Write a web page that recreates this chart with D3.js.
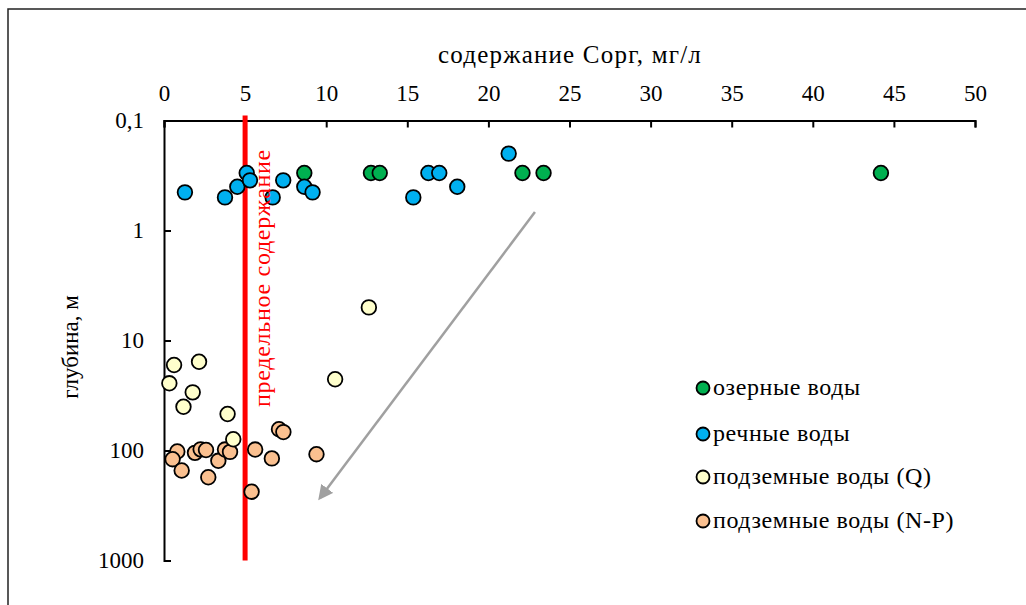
<!DOCTYPE html>
<html><head><meta charset="utf-8">
<script src="https://cdn.jsdelivr.net/npm/d3@7"></script>
<style>
body{margin:0;background:#fff;}
</style></head>
<body><svg id="c" width="1026" height="605"></svg>
<script>
// ---- data ----
const xTicks = [0,5,10,15,20,25,30,35,40,45,50];
const yTicks = [0.1,1,10,100,1000];
const yTickLabels = ["0,1","1","10","100","1000"];

const lakeX = [8.65,12.76,13.3,22.1,23.4,44.2];
const lakeY = [0.3,0.3,0.3,0.3,0.3,0.3];

const riverX = [1.29,3.76,4.52,5.1,5.3,6.7,7.35,8.65,9.16,15.37,16.3,16.97,18.08,21.25];
const riverY = [0.45,0.5,0.4,0.3,0.35,0.5,0.35,0.4,0.45,0.5,0.3,0.3,0.4,0.2];

const gwQX = [12.63,0.62,2.16,0.33,10.55,1.77,1.2,3.92,4.27];
const gwQY = [5,16.7,15.6,24.5,22.5,29.6,40,46.6,79];

const gwNPX = [0.82,0.53,1.09,1.91,2.26,2.59,3.35,2.73,3.76,4.07,5.62,6.65,9.4,5.4,7.09,7.36];
const gwNPY = [102,120,152,105,97.6,99,124,175,98,103,98,118,108,237,64,68];

const seriesNames = ["озерные воды","речные воды","подземные воды (Q)","подземные воды (N-P)"];
const seriesColors = ["#00B050","#00B0F0","#FFFFCC","#FAC090"];

const limitX = 5, limitY0 = 0.09, limitY1 = 1000;
const limitLabel = "предельное содержание";
const arrowFrom = [22.87,0.68], arrowTo = [9.62,270];

const xTitle = "содержание Сорг, мг/л";
const yTitle = "глубина, м";

// ---- drawing ----
const FONT = "Liberation Serif";
const svg = d3.select("#c");
const m = {left:164, top:120.5, right:975, bottom:560.5};
const x = d3.scaleLinear().domain([0,50]).range([m.left,m.right]);
const y = d3.scaleLog().domain([0.1,1000]).range([m.top,m.bottom]);

// outer frame
svg.append("rect").attr("x",8).attr("y",9).attr("width",1040).attr("height",620)
  .attr("fill","none").attr("stroke","#222").attr("stroke-width",1.5);

// axes
const xAxis = d3.axisTop(x).tickValues(xTicks).tickSize(-7).tickPadding(20).tickFormat(d3.format("d"));
const gx = svg.append("g").attr("transform",`translate(0,${m.top})`).call(xAxis)
  .attr("font-family",FONT).attr("font-size",23);
gx.select(".domain").attr("stroke","#000").attr("stroke-width",2);
gx.selectAll(".tick line").attr("stroke","#000").attr("stroke-width",2);
gx.selectAll("text").attr("fill","#000");

const yAxis = d3.axisLeft(y).tickValues(yTicks).tickSize(-7).tickPadding(20)
  .tickFormat((d,i)=>yTickLabels[i]);
const gy = svg.append("g").attr("transform",`translate(${m.left},0)`).call(yAxis)
  .attr("font-family",FONT).attr("font-size",23);
gy.select(".domain").attr("stroke","#000").attr("stroke-width",2);
gy.selectAll(".tick line").attr("stroke","#000").attr("stroke-width",2);
gy.selectAll("text").attr("fill","#000");

// titles
svg.append("text").attr("x",570).attr("y",63).attr("text-anchor","middle")
  .attr("font-family",FONT).attr("font-size",25).attr("letter-spacing",1.2).text(xTitle);
svg.append("text").attr("transform","translate(78,347) rotate(-90)").attr("text-anchor","middle")
  .attr("font-family",FONT).attr("font-size",23).text(yTitle);

// arrow
svg.append("defs").append("marker").attr("id","ah").attr("viewBox","0 0 10 10")
  .attr("refX",8).attr("refY",5).attr("markerWidth",6).attr("markerHeight",6)
  .attr("orient","auto").append("path").attr("d","M0,0L10,5L0,10z").attr("fill","#A0A0A0");
svg.append("line").attr("x1",x(arrowFrom[0])).attr("y1",y(arrowFrom[1]))
  .attr("x2",x(arrowTo[0])).attr("y2",y(arrowTo[1]))
  .attr("stroke","#A0A0A0").attr("stroke-width",2.5).attr("marker-end","url(#ah)");

// limit line (drawn beneath the points)
svg.append("line").attr("x1",x(limitX)).attr("x2",x(limitX))
  .attr("y1",y(limitY0)).attr("y2",y(limitY1)).attr("stroke","#FF0000").attr("stroke-width",5);

// points
const series = [[lakeX,lakeY],[riverX,riverY],[gwQX,gwQY],[gwNPX,gwNPY]];
const order = [3,2,0,1];
order.forEach(si=>{
  const [xs,ys] = series[si];
  svg.append("g").selectAll("circle").data(xs.map((v,i)=>[v,ys[i]])).join("circle")
    .attr("cx",d=>x(d[0])).attr("cy",d=>y(d[1])).attr("r",7.3)
    .attr("fill",seriesColors[si]).attr("stroke","#000").attr("stroke-width",1.8);
});

svg.append("text").attr("transform",`translate(${x(limitX)+25},278) rotate(-90)`)
  .attr("text-anchor","middle").attr("font-family",FONT).attr("font-size",24)
  .attr("letter-spacing",0.7).attr("fill","#FF0000").text(limitLabel);

// legend
const ly = [388,434,477,521];
seriesNames.forEach((n,i)=>{
  svg.append("circle").attr("cx",703).attr("cy",ly[i]).attr("r",6.5)
    .attr("fill",seriesColors[i]).attr("stroke","#000").attr("stroke-width",1.8);
  svg.append("text").attr("x",713).attr("y",ly[i]+7).attr("font-family",FONT)
    .attr("font-size",24).attr("letter-spacing",0.6).text(n);
});
</script></body></html>
